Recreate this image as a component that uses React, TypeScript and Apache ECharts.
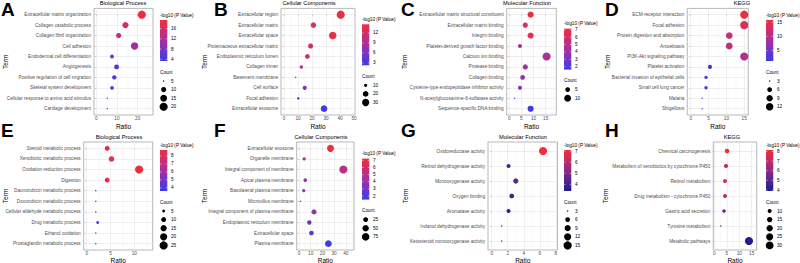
import React, { useEffect, useRef } from "react";
import * as echarts from "echarts";

// ---------------- Data ----------------
// A: Biological Process
const aTerms = ["Extracellular matrix organization", "Collagen catabolic process", "Collagen fibril organization", "Cell adhesion", "Endodermal cell differentiation", "Angiogenesis", "Positive regulation of cell migration", "Skeletal system development", "Cellular response to amino acid stimulus", "Cartilage development"];
const aRatio = [22.0, 14.1, 10.8, 18.5, 7.6, 9.8, 8.7, 7.6, 5.3, 5.3];
const aCount = [20, 13, 10, 17, 7, 9, 8, 7, 5, 5];
const aLogP = [19.4, 15.5, 13.2, 10.8, 7.6, 5.2, 4.4, 5.6, 3.8, 3.3];
const aRatioTicks = [0, 10, 20];
const aColorTicks = [4, 8, 12, 16];
const aCountBreaks = [5, 10, 15, 20];

// B: Cellular Components
const bTerms = ["Extracellular region", "Extracellular matrix", "Extracellular space", "Proteinaceous extracellular matrix", "Endoplasmic reticulum lumen", "Collagen trimer", "Basement membrane", "Cell surface", "Focal adhesion", "Extracellular exosome"];
const bRatio = [40.5, 21.0, 34.8, 19.0, 16.7, 12.4, 8.3, 14.8, 10.2, 28.6];
const bCount = [37, 19, 32, 17, 15, 11, 8, 13, 9, 26];
const bLogP = [14.6, 13.2, 13.8, 12.0, 11.2, 10.0, 7.8, 6.5, 5.0, 2.3];
const bRatioTicks = [0, 10, 20, 30, 40, 50];
const bColorTicks = [3, 6, 9, 12];
const bCountBreaks = [10, 20, 30];

// C: Molecular Function
const cTerms = ["Extracellular matrix structural constituent", "Extracellular matrix binding", "Integrin binding", "Platelet-derived growth factor binding", "Calcium ion binding", "Protease binding", "Collagen binding", "Cysteine-type endopeptidase inhibitor activity", "N-acetylglucosamine-6-sulfatase activity", "Sequence-specific DNA binding"];
const cRatio = [8.8, 6.6, 8.8, 4.4, 15.4, 6.6, 5.5, 4.4, 2.2, 8.8];
const cCount = [8, 6, 8, 4, 14, 6, 5, 4, 2, 8];
const cLogP = [7.15, 6.3, 6.8, 5.0, 4.6, 4.2, 3.8, 3.5, 2.6, 1.6];
const cRatioTicks = [0, 5, 10, 15];
const cColorTicks = [2, 3, 4, 5, 6, 7];
const cCountBreaks = [5, 10];

// D: KEGG
const dTerms = ["ECM-receptor interaction", "Focal adhesion", "Protein digestion and absorption", "Amoebiasis", "PI3K-Akt signaling pathway", "Platelet activation", "Bacterial invasion of epithelial cells", "Small cell lung cancer", "Malaria", "Shigellosis"];
const dRatio = [15.0, 15.0, 10.8, 10.8, 15.0, 5.4, 4.3, 4.3, 3.2, 3.2];
const dCount = [14, 14, 10, 10, 14, 5, 4, 4, 3, 3];
const dLogP = [15.8, 13.5, 11.2, 10.8, 9.4, 2.6, 2.1, 2.2, 1.5, 1.3];
const dRatioTicks = [0, 5, 10, 15];
const dColorTicks = [5, 10, 15];
const dCountBreaks = [3, 6, 9, 12];

// E: Biological Process
const eTerms = ["Steroid metabolic process", "Xenobiotic metabolic process", "Oxidation-reduction process", "Digestion", "Daunorubicin metabolic process", "Doxorubicin metabolic process", "Cellular aldehyde metabolic process", "Drug metabolic process", "Ethanol oxidation", "Prostaglandin metabolic process"];
const eRatio = [4.3, 5.2, 11.0, 4.3, 1.9, 1.9, 1.9, 2.3, 1.9, 1.9];
const eCount = [10, 12, 25, 10, 4, 4, 4, 5, 4, 4];
const eLogP = [8.2, 8.5, 8.75, 8.1, 4.0, 4.0, 4.0, 3.6, 4.2, 4.1];
const eRatioTicks = [0, 5, 10];
const eColorTicks = [4, 5, 6, 7, 8];
const eCountBreaks = [5, 10, 15, 20, 25];

// F: Cellular Components
const fTerms = ["Extracellular exosome", "Organelle membrane", "Integral component of membrane", "Apical plasma membrane", "Basolateral plasma membrane", "Microvillus membrane", "Integral component of plasma membrane", "Endoplasmic reticulum membrane", "Extracellular space", "Plasma membrane"];
const fRatio = [26.9, 4.4, 37.9, 5.3, 4.0, 1.3, 12.8, 8.8, 10.6, 25.1];
const fCount = [61, 10, 86, 12, 9, 3, 29, 20, 24, 57];
const fLogP = [7.24, 4.3, 5.2, 3.9, 3.8, 3.0, 3.8, 2.9, 2.4, 1.5];
const fRatioTicks = [0, 10, 20, 30, 40];
const fColorTicks = [2, 3, 4, 5, 6, 7];
const fCountBreaks = [25, 50, 75];

// G: Molecular Function
const gTerms = ["Oxidoreductase activity", "Retinol dehydrogenase activity", "Monooxygenase activity", "Oxygen binding", "Aromatase activity", "Indanol dehydrogenase activity", "Ketosteroid monooxygenase activity"];
const gRatio = [6.4, 2.1, 3.0, 2.5, 2.1, 1.25, 1.25];
const gCount = [15, 5, 7, 6, 5, 3, 3];
const gLogP = [7.1, 4.1, 4.5, 3.9, 3.7, 3.5, 3.4];
const gRatioTicks = [0, 2, 4, 6, 8];
const gColorTicks = [4, 5, 6, 7];
const gCountBreaks = [3, 6, 9, 12, 15];

// H: KEGG
const hTerms = ["Chemical carcinogenesis", "Metabolism of xenobiotics by cytochrome P450", "Retinol metabolism", "Drug metabolism - cytochrome P450", "Gastric acid secretion", "Tyrosine metabolism", "Metabolic pathways"];
const hRatio = [5.1, 4.7, 4.3, 4.3, 3.9, 2.6, 13.9];
const hCount = [12, 11, 10, 10, 9, 6, 32];
const hLogP = [8.15, 7.3, 7.6, 7.0, 5.4, 4.2, 3.9];
const hRatioTicks = [0, 5, 10, 15];
const hColorTicks = [4, 5, 6, 7, 8];
const hCountBreaks = [10, 15, 20, 25, 30];

// ---------------- Styling / layout ----------------
const FONT = '"Liberation Sans", Arial, Helvetica, sans-serif';
const blueRed = ["#3b3be8", "#7234c8", "#a6309f", "#d02d6d", "#ec2f3d"];
const navyRed = ["#1e1e8c", "#532692", "#8c2a88", "#c22c63", "#ec2f3d"];
const ROW1 = { top: 8.4, bottom: 115, titleY: 3.3, letterTop: 0, nameGap: 7.6 };
const ROW2 = { top: 142, bottom: 250, titleY: 137, letterTop: 121, nameGap: 6.2 };

const panels = [
  { letter: "A", title: "Biological Process", terms: aTerms, ratio: aRatio, count: aCount, logp: aLogP, ticks: aRatioTicks, cTicks: aColorTicks, sBreaks: aCountBreaks, row: ROW1, lx: 1, tx: 123, left: 94, right: 153, xMin: -1.1, xMax: 27.4, legendX: 160, termX: 5, palette: blueRed },
  { letter: "B", title: "Cellular Components", terms: bTerms, ratio: bRatio, count: bCount, logp: bLogP, ticks: bRatioTicks, cTicks: bColorTicks, sBreaks: bCountBreaks, row: ROW1, lx: 214, tx: 309, left: 281, right: 355, xMin: -2.14, xMax: 50.7, legendX: 362, termX: 204.7, palette: blueRed },
  { letter: "C", title: "Molecular Function", terms: cTerms, ratio: cRatio, count: cCount, logp: cLogP, ticks: cRatioTicks, cTicks: cColorTicks, sBreaks: cCountBreaks, row: ROW1, lx: 401, tx: 527, left: 506.7, right: 556.3, xMin: -1.07, xMax: 19.4, legendX: 564, termX: 404.7, palette: blueRed },
  { letter: "D", title: "KEGG", terms: dTerms, ratio: dRatio, count: dCount, logp: dLogP, ticks: dRatioTicks, cTicks: dColorTicks, sBreaks: dCountBreaks, row: ROW1, lx: 605, tx: 742, left: 687.3, right: 748.3, xMin: -0.95, xMax: 16.14, legendX: 766, termX: 607, palette: blueRed },
  { letter: "E", title: "Biological Process", terms: eTerms, ratio: eRatio, count: eCount, logp: eLogP, ticks: eRatioTicks, cTicks: eColorTicks, sBreaks: eCountBreaks, row: ROW2, lx: 1, tx: 119, left: 83.7, right: 152.7, xMin: -0.63, xMax: 13.85, legendX: 160, termX: 5, palette: blueRed },
  { letter: "F", title: "Cellular Components", terms: fTerms, ratio: fRatio, count: fCount, logp: fLogP, ticks: fRatioTicks, cTicks: fColorTicks, sBreaks: fCountBreaks, row: ROW2, lx: 214, tx: 321, left: 296.7, right: 354, xMin: -2.0, xMax: 47, legendX: 362, termX: 204.7, palette: blueRed },
  { letter: "G", title: "Molecular Function", terms: gTerms, ratio: gRatio, count: gCount, logp: gLogP, ticks: gRatioTicks, cTicks: gColorTicks, sBreaks: gCountBreaks, row: ROW2, lx: 401, tx: 523, left: 488, right: 557.5, xMin: -0.46, xMax: 8.2, legendX: 564, termX: 405, palette: navyRed },
  { letter: "H", title: "KEGG", terms: hTerms, ratio: hRatio, count: hCount, logp: hLogP, ticks: hRatioTicks, cTicks: hColorTicks, sBreaks: hCountBreaks, row: ROW2, lx: 605, tx: 732, left: 713.3, right: 756.7, xMin: -0.4, xMax: 17.0, legendX: 766, termX: 605, palette: navyRed },
];

const K = 1.35; // px per ggplot size unit
const sizeOf = (c: number, cmin: number, cmax: number) => {
  const t = Math.max(0, (c - cmin) / (cmax - cmin));
  return K * (1 + 5 * Math.sqrt(t));
};

function txt(x: number, y: number, text: string, size: number, opts: any = {}) {
  const align = opts.align || "left";
  const valign = opts.valign || "middle";
  return {
    type: "text",
    x,
    y,
    rotation: opts.rotation || 0,
    silent: true,
    z: 10,
    style: {
      text,
      x: 0,
      y: 0,
      fontSize: size,
      fontFamily: FONT,
      fontWeight: opts.bold ? "bold" : "normal",
      fill: opts.color || "#000",
      align,
      verticalAlign: valign,
      textAlign: align,
      textVerticalAlign: valign,
    },
  };
}

function buildOption() {
  const grid: any[] = [];
  const xAxis: any[] = [];
  const yAxis: any[] = [];
  const series: any[] = [];
  const visualMap: any[] = [];
  const graphic: any[] = [];

  panels.forEach((p, i) => {
    const n = p.terms.length;
    const idx = p.terms.map((_, j) => j);
    const top = p.row.top;
    const bottom = p.row.bottom;
    const cmin = Math.min(...p.count);
    const cmax = Math.max(...p.count);
    const vmin = Math.min(...p.logp);
    const vmax = Math.max(...p.logp);

    grid.push({
      left: p.left,
      top,
      width: p.right - p.left,
      height: bottom - top,
      show: true,
      backgroundColor: "#ffffff",
      borderColor: "#9a9a9a",
      borderWidth: 0.7,
      containLabel: false,
      outerBoundsMode: "none",
    });

    xAxis.push({
      gridIndex: i,
      type: "value",
      min: p.xMin,
      max: p.xMax,
      axisLine: { show: false },
      splitLine: { show: false },
      axisTick: { show: true, length: 1.5, customValues: p.ticks, lineStyle: { color: "#444", width: 0.5 } },
      axisLabel: { customValues: p.ticks, fontSize: 4.7, color: "#4d4d4d", margin: 1.2, fontFamily: FONT },
      name: "Ratio",
      nameLocation: "middle",
      nameGap: p.row.nameGap,
      nameTextStyle: { fontSize: 6.5, color: "#000", fontFamily: FONT },
    });

    yAxis.push({
      gridIndex: i,
      type: "value",
      min: -0.6,
      max: n - 0.4,
      inverse: true,
      axisLine: { show: false },
      splitLine: { show: false },
      axisTick: { show: true, length: 1.5, customValues: idx, lineStyle: { color: "#444", width: 0.5 } },
      axisLabel: {
        customValues: idx,
        fontSize: 4.7,
        color: "#4d4d4d",
        margin: 3,
        fontFamily: FONT,
        formatter: (v: number) => p.terms[Math.round(v)] ?? "",
      },
    });

    const data = p.terms.map((t, j) => [p.ratio[j], j, p.logp[j], p.count[j], t]);

    // gridlines (major + minor on x, major on y), drawn beneath the points
    const step = p.ticks[1] - p.ticks[0];
    const minor = [p.ticks[0] - step / 2, ...p.ticks.map((t) => t + step / 2)].filter((v) => v > p.xMin && v < p.xMax);
    const major = p.ticks.filter((v) => v > p.xMin && v < p.xMax);
    const majStyle = { color: "#e6e6e6", width: 0.6, type: "solid" };
    const minStyle = { color: "#f1f1f1", width: 0.4, type: "solid" };
    series.push({
      type: "scatter",
      xAxisIndex: i,
      yAxisIndex: i,
      data,
      symbolSize: 0,
      silent: true,
      z: 1,
      itemStyle: { opacity: 0 },
      markLine: {
        z: 1,
        silent: true,
        symbol: ["none", "none"],
        label: { show: false },
        emphasis: { disabled: true },
        animation: false,
        data: [
          ...minor.map((v) => ({ xAxis: v, lineStyle: minStyle })),
          ...major.map((v) => ({ xAxis: v, lineStyle: majStyle })),
          ...idx.map((j) => ({ yAxis: j, lineStyle: majStyle })),
        ],
      },
    });

    const mainIndex = series.length;
    series.push({
      type: "scatter",
      xAxisIndex: i,
      yAxisIndex: i,
      data,
      z: 6,
      silent: true,
      symbol: "circle",
      symbolSize: (v: any) => sizeOf(v[3], cmin, cmax),
      itemStyle: { opacity: 1, borderWidth: 0 },
    });

    visualMap.push({
      type: "continuous",
      show: false,
      seriesIndex: mainIndex,
      dimension: 2,
      min: vmin,
      max: vmax,
      inRange: { color: p.palette },
    });

    // ---- text decorations ----
    graphic.push(txt(p.lx, p.row.letterTop, p.letter, 19, { bold: true, valign: "top" }));
    graphic.push(txt(p.tx, p.row.titleY, p.title, 5.7, { align: "center" }));
    graphic.push(txt(p.termX, (top + bottom) / 2, "Term", 6.5, { align: "center", rotation: Math.PI / 2 }));

    // ---- legends ----
    const nEntries = p.sBreaks.length;
    const titleY = (top + bottom) / 2 - 46.7 + (4 - nEntries) * 4.3;
    const lx = p.legendX;
    const barW = 7.3;
    const barH = 41;
    const barTop = titleY + 5;
    graphic.push(txt(lx, titleY, "-log10 (P Value)", 4.7));
    const stops = p.palette
      .map((c, k) => ({ offset: 1 - k / (p.palette.length - 1), color: c }))
      .reverse();
    graphic.push({
      type: "rect",
      silent: true,
      z: 9,
      shape: { x: lx, y: barTop, width: barW, height: barH },
      style: { fill: { type: "linear", x: 0, y: 0, x2: 0, y2: 1, colorStops: stops } },
    });
    p.cTicks.forEach((t) => {
      const y = barTop + ((vmax - t) / (vmax - vmin)) * barH;
      graphic.push({ type: "line", silent: true, z: 10, shape: { x1: lx, y1: y, x2: lx + 1.5, y2: y }, style: { stroke: "#fff", lineWidth: 0.5 } });
      graphic.push({ type: "line", silent: true, z: 10, shape: { x1: lx + barW - 1.5, y1: y, x2: lx + barW, y2: y }, style: { stroke: "#fff", lineWidth: 0.5 } });
      graphic.push(txt(lx + 11, y, String(t), 4.7, { color: "#000" }));
    });
    graphic.push(txt(lx, titleY + 57, "Count", 4.7));
    p.sBreaks.forEach((b, k) => {
      const y = titleY + 66 + 8.6 * k;
      graphic.push({ type: "circle", silent: true, z: 10, shape: { cx: lx + barW / 2, cy: y, r: sizeOf(b, cmin, cmax) / 2 }, style: { fill: "#000" } });
      graphic.push(txt(lx + 11, y, String(b), 4.7));
    });
  });

  return {
    animation: false,
    backgroundColor: "#ffffff",
    textStyle: { fontFamily: FONT },
    grid,
    xAxis,
    yAxis,
    series,
    visualMap,
    graphic,
  };
}

export default function App() {
  const ref = useRef<HTMLDivElement>(null);
  useEffect(() => {
    document.body.style.margin = "0";
    const chart = echarts.init(ref.current as HTMLDivElement, undefined, { renderer: "svg" });
    chart.setOption(buildOption() as any);
    return () => chart.dispose();
  }, []);
  return <div ref={ref} style={{ position: "fixed", left: 0, top: 0, width: 800, height: 263, background: "#fff" }} />;
}
